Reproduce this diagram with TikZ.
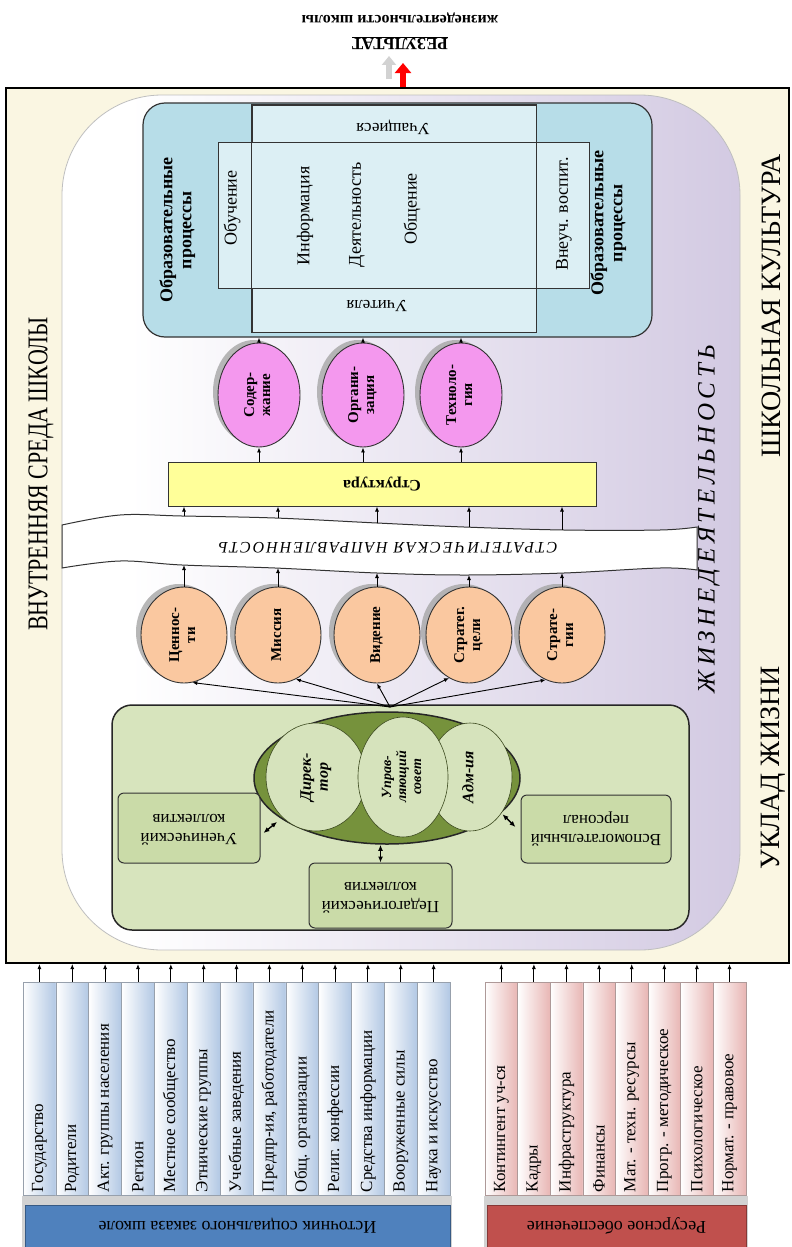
\documentclass[tikz,border=0pt]{standalone}
\usepackage{fontspec}
\setmainfont{Liberation Serif}
\usetikzlibrary{arrows.meta,shapes.geometric,shadows,calc}

\definecolor{cream}{RGB}{250,246,226}
\definecolor{lav}{RGB}{186,172,210}
\definecolor{edublue}{RGB}{183,221,232}
\definecolor{edulight}{RGB}{220,239,244}
\definecolor{pinkc}{RGB}{244,152,238}
\definecolor{peach}{RGB}{250,200,160}
\definecolor{strucy}{RGB}{255,255,153}
\definecolor{mgreen}{RGB}{215,228,189}
\definecolor{dgreen}{RGB}{118,146,60}
\definecolor{lgreen}{RGB}{214,227,188}
\definecolor{sgreen}{RGB}{202,219,168}
\definecolor{colblue}{RGB}{178,200,228}
\definecolor{barblue}{RGB}{79,129,189}
\definecolor{colred}{RGB}{232,182,180}
\definecolor{barred}{RGB}{192,80,77}

\pgfdeclarehorizontalshading{purp}{100bp}{color(0bp)=(white); color(30bp)=(white); color(100bp)=(lav)}

\newcommand{\rtext}[2]{\rotatebox{#1}{\begin{tabular}{@{}c@{}}#2\end{tabular}}}

\tikzset{
  arr/.style={-{Latex[length=5pt,width=4pt]}, line width=0.9pt},
  dbl/.style={{Latex[length=6pt,width=5pt]}-{Latex[length=6pt,width=5pt]}, line width=1.4pt},
  oval/.style={ellipse, draw=black!80, line width=0.9pt, inner sep=0pt,
    drop shadow={shadow xshift=-5pt, shadow yshift=3pt, fill=black!35, opacity=.8},
    font=\bfseries\fontsize{15}{16}\selectfont},
  pinkell/.style={oval, fill=pinkc, minimum width=82pt, minimum height=104pt},
  peachell/.style={oval, fill=peach, minimum width=86pt, minimum height=96pt},
  lcirc/.style={ellipse, draw=dgreen!50!black, line width=0.6pt, fill=lgreen, inner sep=0pt,
    font=\bfseries\itshape\fontsize{16}{17}\selectfont},
  sbox/.style={draw=black!80, line width=1pt, fill=sgreen, rounded corners=6pt,
    font=\fontsize{17}{19}\selectfont},
  colb/.style={draw=colblue!60!black!70, line width=0.5pt, left color=white, right color=colblue,
    inner sep=0pt, minimum width=32.85pt, minimum height=213pt},
  colr/.style={draw=colred!60!black!70, line width=0.5pt, left color=white, right color=colred,
    inner sep=0pt, minimum width=32.6pt, minimum height=213pt},
  lbl/.style={anchor=south, inner sep=0pt, font=\fontsize{17}{19}\selectfont},
  bigtxt/.style={font=\fontsize{28}{30}\selectfont, inner sep=0pt}
}

\begin{document}
\begin{tikzpicture}[x=1pt,y=-1pt, font=\fontsize{18}{20}\selectfont]
\useasboundingbox (0,0) rectangle (792,1247);

% outer frame of the school environment
\node[draw, line width=2pt, fill=cream, minimum width=783pt, minimum height=875pt, inner sep=0pt] (frame) at (397.5,525.5) {};

% life activity area
\shadedraw[shading=purp, draw=gray!50, line width=0.8pt, rounded corners=100pt] (62,95) rectangle (740,950);

% side captions
\node[font=\fontsize{22}{24}\selectfont, inner sep=0pt] (env) at (41,474) {\rotatebox{90}{\scalebox{1}[1.3]{ВНУТРЕННЯЯ СРЕДА ШКОЛЫ}}};
\node[bigtxt] (cult) at (771,306) {\rotatebox{90}{ШКОЛЬНАЯ КУЛЬТУРА}};
\node[bigtxt] (uklad) at (773,768) {\rotatebox{90}{УКЛАД ЖИЗНИ}};
\node[font=\itshape\fontsize{25}{27}\selectfont, inner sep=0pt] (zhd) at (709,519)
  {\rotatebox{90}{\addfontfeatures{LetterSpace=18}ЖИЗНЕДЕЯТЕЛЬНОСТЬ}};

% result at the top
\node[font=\bfseries\fontsize{17}{19}\selectfont, inner sep=0pt] (res) at (400,43) {\rotatebox{180}{\underline{РЕЗУЛЬТАТ}}};
\node[font=\bfseries\fontsize{16}{17}\selectfont, inner sep=0pt] (resl) at (400,18) {\rotatebox{180}{жизнедеятельности школы}};
\coordinate (rtip) at (403,63);
\coordinate (rsh) at (389,56);
\draw[line width=6pt, gray!35, -{Triangle[length=9pt,width=14pt]}] (rsh |- 0,79) -- (rsh);
\draw[line width=6pt, red, -{Triangle[length=10pt,width=16pt]}] (rtip |- frame.north) -- (rtip);

% educational processes block
\node[draw=black!80, line width=1.2pt, fill=edublue, rounded corners=22pt, minimum width=509pt, minimum height=234pt, inner sep=0pt] (edu) at (397.5,220) {};
\node[draw=black!80, line width=0.9pt, fill=edulight, minimum width=284pt, minimum height=227pt, inner sep=0pt] (vr) at (394,218.5) {};
\node[draw=black!80, line width=0.9pt, fill=edulight, minimum width=371pt, minimum height=146pt, inner sep=0pt] (hr) at (403.5,215) {};
\draw[black!80, line width=0.9pt] (vr.north west) rectangle (vr.south east);

\node[font=\bfseries\fontsize{18}{19}\selectfont] (op1) at (178,230) {\rtext{90}{Образовательные\\процессы}};
\node[font=\bfseries\fontsize{18}{19}\selectfont] (op2) at (609,223) {\rtext{90}{Образовательные\\процессы}};
\node (t1) at (232,208) {\rotatebox{90}{Обучение}};
\node (t2) at (305,216) {\rotatebox{90}{Информация}};
\node (t3) at (357,215) {\rotatebox{90}{Деятельность}};
\node (t4) at (412,209) {\rotatebox{90}{Общение}};
\node (t5) at (564,214) {\rotatebox{90}{Внеуч. воспит.}};
\node[font=\fontsize{17}{19}\selectfont] (stud) at (393,127) {\rotatebox{180}{Учащиеся}};
\node[font=\fontsize{17}{19}\selectfont] (teach) at (377,306) {\rotatebox{180}{Учителя}};

% content, organisation, technology
\node[pinkell] (p1) at (259,395) {\rtext{90}{Содер-\\жание}};
\node[pinkell] (p2) at (363,395) {\rtext{90}{Органи-\\зация}};
\node[pinkell] (p3) at (461,395) {\rtext{90}{Техноло-\\гия}};
\foreach \p in {p1,p2,p3} \draw[arr] (\p.north) -- (\p.north |- edu.south);

% structure
\node[draw=black!80, line width=1pt, fill=strucy, minimum width=428pt, minimum height=44pt, inner sep=0pt, font=\bfseries\fontsize{16}{18}\selectfont] (st) at (382,484) {\rotatebox{180}{Структура}};
\foreach \p in {p1,p2,p3} \draw[arr] (\p.south |- st.north) -- (\p.south);

% strategic direction ribbon
\filldraw[fill=white, draw=black!80, line width=1pt]
  plot[smooth, tension=.6] coordinates {(62,525) (120,515) (182,516) (275,518) (377,523) (464,527) (564,530) (660,530) (697,527)}
  -- plot[smooth, tension=.6] coordinates {(697,570) (660,568) (564,573) (464,575) (377,573) (275,568) (182,565) (120,561) (62,568)}
  -- cycle;
\node[font=\itshape\fontsize{16}{18}\selectfont, inner sep=0pt] (sd) at (388,548)
  {\rotatebox{180}{\addfontfeatures{LetterSpace=12}СТРАТЕГИЧЕСКАЯ НАПРАВЛЕННОСТЬ}};
\coordinate (bt1) at (184,516); \coordinate (bb1) at (184,565);
\coordinate (bt2) at (278,518); \coordinate (bb2) at (278,568);
\coordinate (bt3) at (377,523); \coordinate (bb3) at (377,573);
\coordinate (bt4) at (469,527); \coordinate (bb4) at (469,575);
\coordinate (bt5) at (562,530); \coordinate (bb5) at (562,573);
\foreach \i in {1,...,5} \draw[arr] (bt\i) -- (bt\i |- st.south);

% values, mission, vision, goals, strategies
\node[peachell] (c1) at (184,635) {\rtext{90}{Ценнос-\\ти}};
\node[peachell] (c2) at (278,635) {\rtext{90}{Миссия}};
\node[peachell] (c3) at (377,635) {\rtext{90}{Видение}};
\node[peachell] (c4) at (469,635) {\rtext{90}{Стратег.\\цели}};
\node[peachell] (c5) at (562,635) {\rtext{90}{Страте-\\гии}};
\foreach \i in {1,...,5} \draw[arr] (c\i.north) -- (bb\i);

% management block
\node[draw=black!85, line width=1.5pt, fill=mgreen, rounded corners=20pt, minimum width=577pt, minimum height=225pt, inner sep=0pt] (mg) at (400.5,817.5) {};
\coordinate (apex) at (390,707);
\draw[arr] (apex) -- (c1.-80);
\draw[arr] (apex) -- (c2.-68);
\draw[arr] (apex) -- (c3.-90);
\draw[arr] (apex) -- (c4.-115);
\draw[arr] (apex) -- (c5.-110);

\node[ellipse, draw=black!85, line width=1.5pt, fill=dgreen, minimum width=266pt, minimum height=132pt, inner sep=0pt] (council) at (387,778) {};
\node[lcirc, minimum width=100pt, minimum height=108pt] (dir) at (316,777) {\rtext{90}{Дирек-\\тор}};
\node[lcirc, minimum width=84pt, minimum height=108pt] (adm) at (470,777) {\rtext{90}{Адм-ия}};
\node[lcirc, minimum width=90pt, minimum height=120pt, font=\bfseries\itshape\fontsize{14}{15}\selectfont] (sov) at (403,777) {\rtext{90}{Управ-\\ляющий\\совет}};

\node[sbox, minimum width=142pt, minimum height=70pt] (uch) at (189,828) {\rtext{180}{Ученический\\коллектив}};
\node[sbox, minimum width=143pt, minimum height=65pt] (ped) at (380.5,895.5) {\rtext{180}{Педагогический\\коллектив}};
\node[sbox, minimum width=150pt, minimum height=68pt] (vsp) at (596,829) {\rtext{180}{Вспомогательный\\персонал}};
\draw[dbl, shorten >=5pt] ([shift={(3,5)}]uch.east) -- (council.201);
\draw[dbl] (ped.north) -- (ped.north |- council.south);
\draw[dbl, shorten >=2pt] ([shift={(-5,-2)}]vsp.west) -- (council.-17);

% sources of the social order
\foreach \t [count=\i] in {Государство, Родители, Акт. группы населения, Регион, Местное сообщество,
  Этнические группы, Учебные заведения, {Предпр-ия, работодатели}, Общ. организации,
  Религ. конфессии, Средства информации, Вооруженные силы, Наука и искусство}{
  \node[colb] (L\i) at ({23+(\i-0.5)*32.85},1088.5) {};
  \node[lbl] (Lt\i) at ([yshift=3pt]L\i.south) {\rotatebox{90}{\t}};
  \draw[arr] (L\i.north) -- (L\i.north |- frame.south);
}
\fill[gray!35] (22,1196) rectangle (452,1247);
\node[fill=barblue, draw=barblue!70!black, minimum width=425pt, minimum height=42pt, inner sep=0pt] (srcbar) at (237.5,1226)
  {\rotatebox{180}{Источник социального заказа школе}};

% resource provision
\foreach \t [count=\i] in {Контингент уч-ся, Кадры, Инфраструктура, Финансы, Мат. - техн. ресурсы,
  Прогр. - методическое, Психологическое, Нормат. - правовое}{
  \node[colr] (R\i) at ({485+(\i-0.5)*32.6},1088.5) {};
  \node[lbl] (Rt\i) at ([yshift=3pt]R\i.south) {\rotatebox{90}{\t}};
  \draw[arr] (R\i.north) -- (R\i.north |- frame.south);
}
\fill[gray!35] (484,1196) rectangle (748,1247);
\node[fill=barred, draw=barred!70!black, minimum width=259pt, minimum height=42pt, inner sep=0pt] (resbar) at (616.5,1226)
  {\rotatebox{180}{Ресурсное обеспечение}};
\end{tikzpicture}
\end{document}
